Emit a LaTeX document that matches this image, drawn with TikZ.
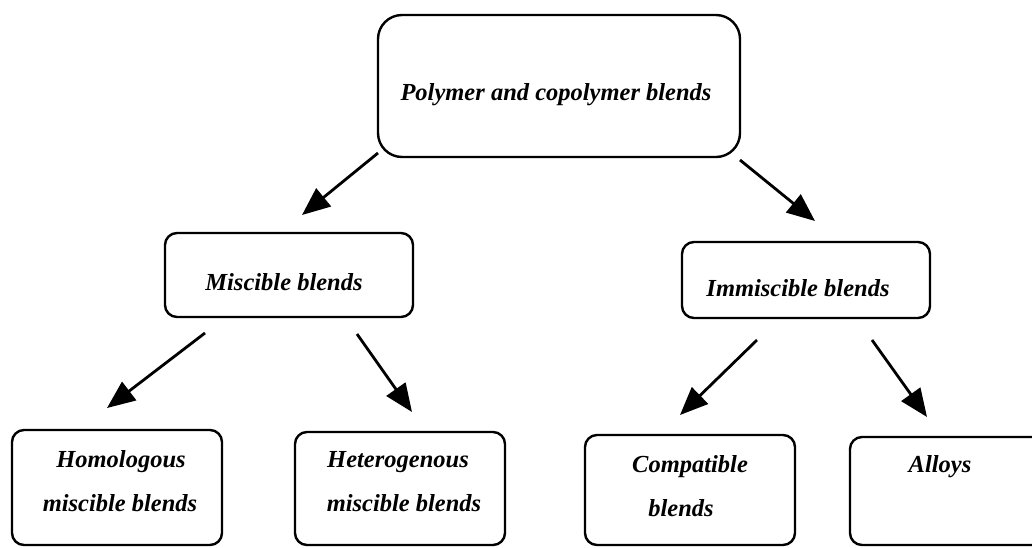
\documentclass[tikz,border=0pt]{standalone}
\usepackage{fontspec}
\setmainfont{Liberation Serif}
\usetikzlibrary{arrows.meta}
\begin{document}
\begin{tikzpicture}[x=1pt,y=-1pt,
  box/.style={draw=black, line width=2.4pt, rounded corners=#1, inner sep=0pt},
  box/.default=12pt,
  lbl/.style={font=\fontsize{24.5}{28}\selectfont\bfseries\itshape, inner sep=0pt, anchor=center},
  arr/.style={line width=2.8pt, -{Triangle[length=28pt,width=23pt]}}]
\useasboundingbox (0,0) rectangle (1032,547);
\clip (0,0) rectangle (1032,547);
% boxes
\node[box=24pt, minimum width=362pt, minimum height=142pt] (top) at (559,86) {};
\node[box, minimum width=248pt, minimum height=84pt] (mis) at (289,275) {};
\node[box, minimum width=248pt, minimum height=76pt] (imm) at (806,280) {};
\node[box, minimum width=210pt, minimum height=115pt] (homo) at (117,487.5) {};
\node[box, minimum width=210pt, minimum height=113pt] (hete) at (400,488.5) {};
\node[box, minimum width=210pt, minimum height=110pt] (comp) at (690,490) {};
\node[box, minimum width=200pt, minimum height=108pt] (allo) at (950,491) {};
% texts
\node[lbl] (ttop) at (556,95) {Polymer and copolymer blends};
\node[lbl] (tmis) at (284,282) {Miscible blends};
\node[lbl] (timm) at (798,288) {Immiscible blends};
\node[lbl] (thomo1) at (121,462) {Homologous};
\node[lbl] (thomo2) at (120,503) {miscible blends};
\node[lbl] (thete1) at (398,462) {Heterogenous};
\node[lbl] (thete2) at (404,503) {miscible blends};
\node[lbl] (tcomp1) at (690,467) {Compatible};
\node[lbl] (tcomp2) at (681,508) {blends};
\node[lbl] (tallo) at (940,467) {Alloys};
% arrow end points
\coordinate (a1s) at (378,153); \coordinate (a1e) at (302,215);
\coordinate (a2s) at (740,160); \coordinate (a2e) at (815,221);
\coordinate (a3s) at (205,333); \coordinate (a3e) at (107,408);
\coordinate (a4s) at (357,334); \coordinate (a4e) at (412,412);
\coordinate (a5s) at (757,340); \coordinate (a5e) at (680,415);
\coordinate (a6s) at (872,340); \coordinate (a6e) at (927,417);
\draw[arr] (a1s) -- (a1e);
\draw[arr] (a2s) -- (a2e);
\draw[arr] (a3s) -- (a3e);
\draw[arr] (a4s) -- (a4e);
\draw[arr] (a5s) -- (a5e);
\draw[arr] (a6s) -- (a6e);
\end{tikzpicture}
\end{document}
